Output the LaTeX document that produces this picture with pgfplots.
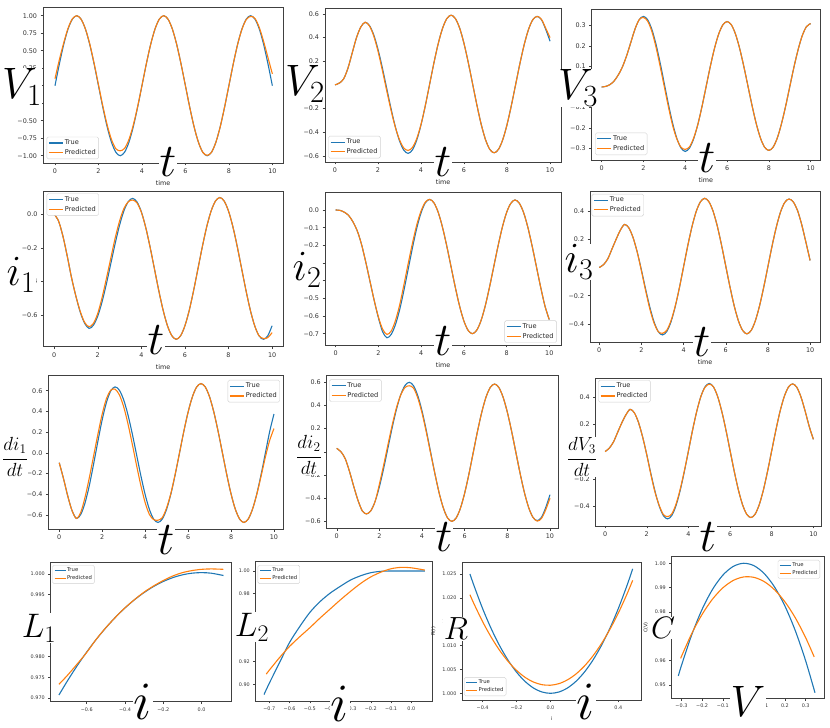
\RequirePackage{fix-cm}
\documentclass[border=0pt]{standalone}
\usepackage{fontspec}
\usepackage{pgfplots}
\usepackage{pgfplotstable}
\pgfplotsset{compat=1.18}
\newfontfamily\mplfont{DejaVu Sans}
\definecolor{mblue}{HTML}{1F77B4}
\definecolor{morange}{HTML}{FF7F0E}
\newcommand\tickf{\mplfont\fontsize{6.4}{7}\selectfont}
\newcommand\smallf{\mplfont\fontsize{4.9}{5.5}\selectfont}
\newcommand\legf{\mplfont\fontsize{6.6}{7.2}\selectfont}
\newcommand\slegf{\mplfont\fontsize{5.3}{6}\selectfont}
\newcommand\bl[2]{\fontsize{#1}{#1}\selectfont$#2$}

\pgfplotsset{
  mpl/.style={
    scale only axis, anchor=south west,
    axis line style={black!75, line width=0.55pt},
    tick pos=left, tick align=outside,
    major tick length=2.4pt,
    every tick/.style={black!75, line width=0.45pt},
    tick label style={font=\tickf, text=black!80},
    label style={font=\tickf, text=black!85},
    legend cell align=left,
    legend style={font=\legf, text=black!85, draw=black!18, fill=white,
      rounded corners=1.5pt, inner xsep=1.5pt, inner ysep=1.5pt,
      nodes={inner sep=1.4pt}, row sep=0.5pt},
    legend image code/.code={\draw[#1, line width=1.1pt] (0pt,0pt) -- (14pt,0pt);},
    every axis plot/.append style={line width=1.1pt, no markers},
  },
  tser/.style={mpl, xtick={0,2,4,6,8,10}, xticklabels={0,2,4,6,8,10}, xlabel={time}},
  sm/.style={mpl, tick label style={font=\smallf}, label style={font=\smallf},
    legend style={font=\slegf, nodes={inner sep=1pt}},
    legend image code/.code={\draw[#1, line width=1.0pt] (0pt,0pt) -- (11pt,0pt);}},
  tr/.style={mblue, smooth},
  pr/.style={morange, smooth},
}

% time series: t, true (a), predicted (b)
\pgfplotstableread{
t a b
0 0 0.10
0.2 0.309 0.37
0.4 0.588 0.61
0.6 0.809 0.82
0.8 0.951 0.955
1.0 1.0 1.0
1.2 0.951 0.95
1.4 0.809 0.81
1.6 0.588 0.595
1.8 0.309 0.32
2.0 0 0.015
2.2 -0.309 -0.29
2.4 -0.588 -0.56
2.6 -0.809 -0.77
2.8 -0.951 -0.90
3.0 -1.0 -0.93
3.2 -0.951 -0.895
3.4 -0.809 -0.77
3.6 -0.588 -0.565
3.8 -0.309 -0.30
4.0 0 0
4.2 0.309 0.309
4.4 0.588 0.588
4.6 0.809 0.809
4.8 0.951 0.951
5.0 1.0 1.0
5.2 0.951 0.951
5.4 0.809 0.809
5.6 0.588 0.588
5.8 0.309 0.309
6.0 0 0
6.2 -0.309 -0.309
6.4 -0.588 -0.588
6.6 -0.809 -0.809
6.8 -0.951 -0.951
7.0 -1.0 -0.995
7.2 -0.951 -0.951
7.4 -0.809 -0.809
7.6 -0.588 -0.588
7.8 -0.309 -0.309
8.0 0 0
8.2 0.309 0.309
8.4 0.588 0.588
8.6 0.809 0.805
8.8 0.951 0.945
9.0 1.0 0.99
9.2 0.951 0.96
9.4 0.809 0.83
9.6 0.588 0.63
9.8 0.309 0.40
10 0 0.17
}\tVa

\pgfplotstableread{
t a b
0 0 0
0.2 0.015 0.015
0.4 0.05 0.05
0.6 0.14 0.14
0.8 0.27 0.27
1.0 0.40 0.40
1.2 0.49 0.49
1.4 0.53 0.53
1.6 0.503 0.50
1.8 0.424 0.415
2.0 0.301 0.285
2.2 0.146 0.125
2.4 -0.025 -0.045
2.6 -0.196 -0.21
2.8 -0.351 -0.355
3.0 -0.474 -0.465
3.2 -0.553 -0.535
3.4 -0.58 -0.555
3.6 -0.551 -0.53
3.8 -0.468 -0.455
4.0 -0.339 -0.335
4.2 -0.176 -0.176
4.4 0.005 0.005
4.6 0.186 0.186
4.8 0.349 0.349
5.0 0.478 0.478
5.2 0.561 0.561
5.4 0.59 0.59
5.6 0.561 0.561
5.8 0.479 0.479
6.0 0.350 0.350
6.2 0.187 0.187
6.4 0.0075 0.0075
6.6 -0.172 -0.172
6.8 -0.335 -0.335
7.0 -0.464 -0.464
7.2 -0.547 -0.547
7.4 -0.575 -0.575
7.6 -0.547 -0.547
7.8 -0.465 -0.465
8.0 -0.337 -0.337
8.2 -0.176 -0.176
8.4 0.0025 0.0025
8.6 0.181 0.181
8.8 0.342 0.342
9.0 0.470 0.470
9.2 0.552 0.552
9.4 0.58 0.58
9.6 0.552 0.555
9.8 0.47 0.48
10 0.37 0.40
}\tVb

\pgfplotstableread{
t a b
0 0 0
0.2 0.003 0.003
0.4 0.012 0.012
0.6 0.03 0.03
0.8 0.06 0.06
1.0 0.10 0.10
1.2 0.155 0.155
1.4 0.22 0.22
1.6 0.285 0.285
1.8 0.33 0.33
2.0 0.345 0.34
2.2 0.329 0.322
2.4 0.282 0.272
2.6 0.209 0.195
2.8 0.117 0.10
3.0 0.015 0.0
3.2 -0.087 -0.10
3.4 -0.179 -0.19
3.6 -0.252 -0.255
3.8 -0.299 -0.295
4.0 -0.315 -0.305
4.2 -0.299 -0.293
4.4 -0.254 -0.25
4.6 -0.184 -0.184
4.8 -0.096 -0.096
5.0 0.0025 0.0025
5.2 0.101 0.101
5.4 0.189 0.189
5.6 0.259 0.259
5.8 0.304 0.304
6.0 0.32 0.32
6.2 0.305 0.305
6.4 0.26 0.26
6.6 0.19 0.19
6.8 0.102 0.102
7.0 0.005 0.005
7.2 -0.092 -0.092
7.4 -0.180 -0.180
7.6 -0.250 -0.250
7.8 -0.295 -0.295
8.0 -0.31 -0.31
8.2 -0.295 -0.295
8.4 -0.251 -0.251
8.6 -0.182 -0.182
8.8 -0.096 -0.096
9.0 0 0
9.2 0.096 0.096
9.4 0.182 0.182
9.6 0.251 0.251
9.8 0.295 0.295
10 0.31 0.31
}\tVc

\pgfplotstableread{
t a b
0 0 0
0.2 -0.04 -0.04
0.4 -0.13 -0.13
0.6 -0.25 -0.25
0.8 -0.38 -0.38
1.0 -0.49 -0.49
1.2 -0.585 -0.58
1.4 -0.65 -0.645
1.6 -0.68 -0.67
1.8 -0.661 -0.65
2.0 -0.606 -0.59
2.2 -0.520 -0.495
2.4 -0.412 -0.38
2.6 -0.2925 -0.26
2.8 -0.173 -0.14
3.0 -0.065 -0.04
3.2 0.021 0.035
3.4 0.076 0.075
3.6 0.095 0.085
3.8 0.074 0.068
4.0 0.015 0.012
4.2 -0.078 -0.078
4.4 -0.195 -0.195
4.6 -0.325 -0.325
4.8 -0.455 -0.455
5.0 -0.572 -0.572
5.2 -0.665 -0.665
5.4 -0.724 -0.724
5.6 -0.745 -0.745
5.8 -0.724 -0.724
6.0 -0.664 -0.664
6.2 -0.571 -0.571
6.4 -0.453 -0.453
6.6 -0.3225 -0.3225
6.8 -0.192 -0.192
7.0 -0.074 -0.074
7.2 0.019 0.019
7.4 0.079 0.079
7.6 0.10 0.10
7.8 0.079 0.079
8.0 0.019 0.019
8.2 -0.074 -0.074
8.4 -0.192 -0.192
8.6 -0.3225 -0.3225
8.8 -0.453 -0.453
9.0 -0.571 -0.571
9.2 -0.664 -0.664
9.4 -0.724 -0.724
9.6 -0.745 -0.74
9.8 -0.724 -0.735
10 -0.664 -0.705
}\tIa

\pgfplotstableread{
t a b
0 0 0
0.2 -0.002 -0.002
0.4 -0.012 -0.012
0.6 -0.03 -0.03
0.8 -0.065 -0.065
1.0 -0.115 -0.115
1.2 -0.19 -0.19
1.4 -0.29 -0.29
1.6 -0.40 -0.40
1.8 -0.51 -0.51
2.0 -0.61 -0.605
2.2 -0.69 -0.675
2.4 -0.723 -0.704
2.6 -0.704 -0.685
2.8 -0.648 -0.625
3.0 -0.562 -0.535
3.2 -0.452 -0.42
3.4 -0.3315 -0.30
3.6 -0.211 -0.185
3.8 -0.101 -0.082
4.0 -0.015 -0.005
4.2 0.041 0.045
4.4 0.06 0.06
4.6 0.041 0.041
4.8 -0.013 -0.013
5.0 -0.097 -0.097
5.2 -0.203 -0.203
5.4 -0.32 -0.32
5.6 -0.437 -0.437
5.8 -0.543 -0.543
6.0 -0.627 -0.627
6.2 -0.681 -0.681
6.4 -0.70 -0.70
6.6 -0.681 -0.681
6.8 -0.628 -0.628
7.0 -0.544 -0.544
7.2 -0.438 -0.438
7.4 -0.3215 -0.3215
7.6 -0.205 -0.205
7.8 -0.099 -0.099
8.0 -0.015 -0.015
8.2 0.038 0.038
8.4 0.057 0.057
8.6 0.038 0.038
8.8 -0.015 -0.015
9.0 -0.099 -0.099
9.2 -0.205 -0.205
9.4 -0.3215 -0.3215
9.6 -0.438 -0.438
9.8 -0.544 -0.544
10 -0.62 -0.62
}\tIb

\pgfplotstableread{
t a b
0 0 0
0.2 0.02 0.02
0.4 0.06 0.06
0.6 0.13 0.13
0.8 0.20 0.20
1.0 0.265 0.265
1.2 0.305 0.305
1.4 0.281 0.281
1.6 0.213 0.213
1.8 0.109 0.109
2.0 -0.018 -0.025
2.2 -0.155 -0.165
2.4 -0.282 -0.295
2.6 -0.386 -0.395
2.8 -0.455 -0.455
3.0 -0.478 -0.466
3.2 -0.454 -0.445
3.4 -0.386 -0.378
3.6 -0.279 -0.275
3.8 -0.144 -0.144
4.0 0.006 0.006
4.2 0.156 0.156
4.4 0.291 0.291
4.6 0.398 0.398
4.8 0.466 0.466
5.0 0.49 0.49
5.2 0.466 0.466
5.4 0.398 0.398
5.6 0.292 0.292
5.8 0.158 0.158
6.0 0.01 0.01
6.2 -0.138 -0.138
6.4 -0.272 -0.272
6.6 -0.378 -0.378
6.8 -0.446 -0.446
7.0 -0.47 -0.47
7.2 -0.447 -0.447
7.4 -0.379 -0.379
7.6 -0.273 -0.273
7.8 -0.14 -0.14
8.0 0.0075 0.0075
8.2 0.155 0.155
8.4 0.288 0.288
8.6 0.394 0.394
8.8 0.462 0.462
9.0 0.485 0.485
9.2 0.465 0.465
9.4 0.405 0.405
9.6 0.305 0.305
9.8 0.18 0.18
10 0.05 0.05
}\tIc

\pgfplotstableread{
t a b
0 -0.096 -0.096
0.2 -0.25 -0.25
0.4 -0.42 -0.42
0.6 -0.56 -0.56
0.8 -0.633 -0.633
1.0 -0.595 -0.575
1.2 -0.484 -0.43
1.4 -0.316 -0.24
1.6 -0.108 -0.03
1.8 0.112 0.18
2.0 0.320 0.375
2.2 0.488 0.525
2.4 0.599 0.605
2.6 0.637 0.615
2.8 0.605 0.56
3.0 0.512 0.445
3.2 0.367 0.28
3.4 0.185 0.085
3.6 -0.0175 -0.12
3.8 -0.220 -0.315
4.0 -0.402 -0.48
4.2 -0.547 -0.595
4.4 -0.640 -0.645
4.6 -0.672 -0.65
4.8 -0.639 -0.625
5.0 -0.544 -0.53
5.2 -0.396 -0.39
5.4 -0.209 -0.205
5.6 -0.0015 -0.0015
5.8 0.206 0.206
6.0 0.393 0.393
6.2 0.541 0.541
6.4 0.636 0.636
6.6 0.669 0.669
6.8 0.636 0.636
7.0 0.541 0.541
7.2 0.393 0.393
7.4 0.206 0.206
7.6 -0.0015 -0.0015
7.8 -0.209 -0.209
8.0 -0.396 -0.396
8.2 -0.544 -0.544
8.4 -0.639 -0.639
8.6 -0.672 -0.672
8.8 -0.639 -0.639
9.0 -0.544 -0.544
9.2 -0.396 -0.40
9.4 -0.209 -0.225
9.6 -0.0015 -0.04
9.8 0.206 0.12
10 0.375 0.235
}\tDa

\pgfplotstableread{
t a b
0 0.03 0.03
0.2 0.0 0.0
0.4 -0.06 -0.06
0.6 -0.17 -0.17
0.8 -0.30 -0.30
1.0 -0.42 -0.42
1.2 -0.51 -0.51
1.4 -0.536 -0.536
1.6 -0.508 -0.508
1.8 -0.428 -0.428
2.0 -0.302 -0.28
2.2 -0.144 -0.115
2.4 0.032 0.06
2.6 0.208 0.23
2.8 0.366 0.38
3.0 0.492 0.49
3.2 0.572 0.555
3.4 0.60 0.57
3.6 0.571 0.55
3.8 0.485 0.465
4.0 0.353 0.335
4.2 0.185 0.17
4.4 0 -0.01
4.6 -0.185 -0.185
4.8 -0.353 -0.353
5.0 -0.485 -0.485
5.2 -0.571 -0.571
5.4 -0.60 -0.60
5.6 -0.571 -0.571
5.8 -0.487 -0.487
6.0 -0.356 -0.356
6.2 -0.191 -0.191
6.4 -0.0075 -0.0075
6.6 0.176 0.176
6.8 0.341 0.341
7.0 0.472 0.472
7.2 0.556 0.556
7.4 0.585 0.585
7.6 0.556 0.556
7.8 0.472 0.472
8.0 0.342 0.342
8.2 0.178 0.178
8.4 -0.0045 -0.0045
8.6 -0.187 -0.187
8.8 -0.351 -0.351
9.0 -0.481 -0.481
9.2 -0.565 -0.565
9.4 -0.594 -0.598
9.6 -0.565 -0.575
9.8 -0.481 -0.50
10 -0.37 -0.40
}\tDb

\pgfplotstableread{
t a b
0 0 0
0.2 0.025 0.025
0.4 0.07 0.07
0.6 0.14 0.14
0.8 0.21 0.21
1.0 0.27 0.27
1.2 0.31 0.31
1.4 0.286 0.286
1.6 0.216 0.216
1.8 0.109 0.109
2.0 -0.022 -0.022
2.2 -0.162 -0.17
2.4 -0.293 -0.30
2.6 -0.400 -0.395
2.8 -0.470 -0.462
3.0 -0.494 -0.477
3.2 -0.470 -0.458
3.4 -0.399 -0.388
3.6 -0.289 -0.28
3.8 -0.151 -0.145
4.0 0.003 0.003
4.2 0.157 0.157
4.4 0.295 0.295
4.6 0.405 0.405
4.8 0.476 0.472
5.0 0.50 0.495
5.2 0.476 0.476
5.4 0.406 0.406
5.6 0.297 0.297
5.8 0.160 0.160
6.0 0.008 0.008
6.2 -0.144 -0.144
6.4 -0.281 -0.281
6.6 -0.390 -0.390
6.8 -0.460 -0.460
7.0 -0.484 -0.484
7.2 -0.460 -0.460
7.4 -0.390 -0.390
7.6 -0.282 -0.282
7.8 -0.145 -0.145
8.0 0.0065 0.0065
8.2 0.158 0.158
8.4 0.295 0.295
8.6 0.403 0.403
8.8 0.473 0.473
9.0 0.497 0.497
9.2 0.473 0.473
9.4 0.403 0.403
9.6 0.30 0.30
9.8 0.185 0.185
10 0.09 0.09
}\tDc

\begin{document}
\begin{tikzpicture}
\useasboundingbox (0,0) rectangle (830pt,728pt);

% ---------- row 1 ----------
\begin{axis}[tser, at={(43pt,565pt)}, width=240pt, height=155.7pt,
  xmin=-0.552, xmax=10.49, ymin=-1.104, ymax=1.12,
  ytick={-1,-0.75,-0.5,-0.25,0,0.25,0.5,0.75,1},
  yticklabels={−1.00,−0.75,−0.50,−0.25,0.00,0.25,0.50,0.75,1.00},
  legend style={at={(0.015,0.025)}, anchor=south west}]
\addplot[tr] table[x=t,y=a] {\tVa};
\addplot[pr] table[x=t,y=b] {\tVa};
\legend{True,Predicted}
\end{axis}

\begin{axis}[tser, at={(325pt,566pt)}, width=236pt, height=154pt,
  xmin=-0.465, xmax=10.51, ymin=-0.653, ymax=0.651,
  ytick={-0.6,-0.4,-0.2,0,0.2,0.4,0.6},
  yticklabels={−0.6,−0.4,−0.2,0.0,0.2,0.4,0.6},
  legend style={at={(0.014,0.024)}, anchor=south west}]
\addplot[tr] table[x=t,y=a] {\tVb};
\addplot[pr] table[x=t,y=b] {\tVb};
\legend{True,Predicted}
\end{axis}

\begin{axis}[tser, at={(591.7pt,568pt)}, width=228.3pt, height=150.7pt,
  xmin=-0.478, xmax=10.45, ymin=-0.357, ymax=0.38,
  ytick={-0.3,-0.2,-0.1,0,0.1,0.2,0.3},
  yticklabels={−0.3,−0.2,−0.1,0.0,0.1,0.2,0.3},
  legend style={at={(0.0145,0.033)}, anchor=south west}]
\addplot[tr] table[x=t,y=a] {\tVc};
\addplot[pr] table[x=t,y=b] {\tVc};
\legend{True,Predicted}
\end{axis}

% ---------- row 2 ----------
\begin{axis}[tser, at={(43.3pt,381.3pt)}, width=239.7pt, height=155.7pt,
  xmin=-0.5, xmax=10.5, ymin=-0.789, ymax=0.139,
  ytick={-0.6,-0.4,-0.2,0}, yticklabels={−0.6,−0.4,−0.2,0.0},
  legend style={at={(0.014,0.985)}, anchor=north west}]
\addplot[tr] table[x=t,y=a] {\tIa};
\addplot[pr] table[x=t,y=b] {\tIa};
\legend{True,Predicted}
\end{axis}

\begin{axis}[tser, at={(325pt,383pt)}, width=236pt, height=152.3pt,
  xmin=-0.5, xmax=10.55, ymin=-0.764, ymax=0.098,
  ytick={-0.7,-0.6,-0.5,-0.4,-0.3,-0.2,-0.1,0},
  yticklabels={−0.7,−0.6,−0.5,−0.4,−0.3,−0.2,−0.1,0.0},
  legend style={at={(0.982,0.015)}, anchor=south east}]
\addplot[tr] table[x=t,y=a] {\tIb};
\addplot[pr] table[x=t,y=b] {\tIb};
\legend{True,Predicted}
\end{axis}

\begin{axis}[tser, at={(590pt,385.7pt)}, width=230pt, height=150.6pt,
  xmin=-0.44, xmax=10.47, ymin=-0.53, ymax=0.537,
  ytick={-0.4,-0.2,0,0.2,0.4}, yticklabels={−0.4,−0.2,0.0,0.2,0.4},
  legend style={at={(0.007,0.985)}, anchor=north west}]
\addplot[tr] table[x=t,y=a] {\tIc};
\addplot[pr] table[x=t,y=b] {\tIc};
\legend{True,Predicted}
\end{axis}

% ---------- row 3 ----------
\begin{axis}[tser, at={(48.3pt,198.7pt)}, width=234.7pt, height=153.6pt,
  xmin=-0.51, xmax=10.42, ymin=-0.738, ymax=0.745,
  ytick={-0.6,-0.4,-0.2,0,0.2,0.4,0.6},
  yticklabels={−0.6,−0.4,−0.2,0.0,0.2,0.4,0.6},
  legend style={at={(0.987,0.972)}, anchor=north east}]
\addplot[tr] table[x=t,y=a] {\tDa};
\addplot[pr] table[x=t,y=b] {\tDa};
\legend{True,Predicted}
\end{axis}

\begin{axis}[tser, at={(326.7pt,199.7pt)}, width=231.6pt, height=152.6pt,
  xmin=-0.47, xmax=10.39, ymin=-0.66, ymax=0.657,
  ytick={-0.6,-0.4,-0.2,0,0.2,0.4,0.6},
  yticklabels={−0.6,−0.4,−0.2,0.0,0.2,0.4,0.6},
  legend style={at={(0.011,0.976)}, anchor=north west}]
\addplot[tr] table[x=t,y=a] {\tDb};
\addplot[pr] table[x=t,y=b] {\tDb};
\legend{True,Predicted}
\end{axis}

\begin{axis}[tser, at={(595.7pt,202pt)}, width=226pt, height=147.7pt,
  xmin=-0.45, xmax=10.40, ymin=-0.546, ymax=0.538,
  ytick={-0.4,-0.2,0,0.2,0.4}, yticklabels={−0.4,−0.2,0.0,0.2,0.4},
  legend style={at={(0.0115,0.988)}, anchor=north west}]
\addplot[tr] table[x=t,y=a] {\tDc};
\addplot[pr] table[x=t,y=b] {\tDc};
\legend{True,Predicted}
\end{axis}

% ---------- row 4 ----------
\begin{axis}[sm, at={(50.7pt,26.3pt)}, width=181pt, height=139.4pt,
  xmin=-0.788, xmax=0.157, ymin=0.9691, ymax=1.0028,
  xtick={-0.6,-0.4,-0.2,0}, xticklabels={−0.6,−0.4,−0.2,0.0},
  ytick={0.970,0.975,0.980,0.985,0.990,0.995,1.000},
  yticklabels={0.970,0.975,0.980,0.985,0.990,0.995,1.000},
  legend style={at={(0.009,0.98)}, anchor=north west}]
\addplot[tr] table {
-0.745 0.97072
-0.7 0.97418
-0.65 0.97778
-0.6 0.98111
-0.55 0.98418
-0.5 0.98697
-0.45 0.98951
-0.4 0.99177
-0.35 0.99377
-0.3 0.9955
-0.25 0.99697
-0.2 0.99817
-0.15 0.9991
-0.1 0.99977
-0.05 1.00017
0 1.0003
0.05 1.00017
0.114 0.99961
};
\addplot[pr] table {
-0.745 0.9733
-0.7 0.9755
-0.65 0.9782
-0.6 0.9810
-0.55 0.9842
-0.5 0.9870
-0.45 0.9895
-0.4 0.9918
-0.35 0.9938
-0.3 0.9956
-0.25 0.9971
-0.2 0.9984
-0.15 0.9995
-0.1 1.0003
-0.05 1.0008
0 1.0011
0.05 1.0012
0.114 1.0011
};
\legend{True,Predicted}
\end{axis}

\begin{axis}[sm, at={(255.7pt,27pt)}, width=177pt, height=139.3pt,
  xmin=-0.767, xmax=0.105, ymin=0.8853, ymax=1.0082,
  xtick={-0.7,-0.6,-0.5,-0.4,-0.3,-0.2,-0.1,0},
  xticklabels={−0.7,−0.6,−0.5,−0.4,−0.3,−0.2,−0.1,0.0},
  ytick={0.90,0.92,0.94,0.96,0.98,1.00},
  yticklabels={0.90,0.92,0.94,0.96,0.98,1.00},
  legend style={at={(0.011,0.976)}, anchor=north west}]
\addplot[tr] table {
-0.726 0.891
-0.7 0.901
-0.65 0.919
-0.6 0.937
-0.55 0.951
-0.5 0.9635
-0.45 0.973
-0.4 0.9805
-0.35 0.9865
-0.3 0.992
-0.25 0.9958
-0.2 0.9985
-0.15 0.9997
-0.1 1.0
-0.05 1.0
0 1.0
0.066 1.0
};
\addplot[pr] table {
-0.715 0.909
-0.7 0.9125
-0.65 0.9235
-0.6 0.9335
-0.55 0.942
-0.5 0.950
-0.45 0.9585
-0.4 0.9665
-0.35 0.9745
-0.3 0.982
-0.25 0.989
-0.2 0.9948
-0.15 0.999
-0.1 1.0020
-0.05 1.0032
0 1.0028
0.066 1.0008
};
\legend{True,Predicted}
\end{axis}

\begin{axis}[sm, at={(462.3pt,28pt)}, width=178.7pt, height=137.3pt,
  xmin=-0.52, xmax=0.534, ymin=0.9986, ymax=1.0274,
  xtick={-0.4,-0.2,0,0.2,0.4}, xticklabels={−0.4,−0.2,0.0,0.2,0.4},
  ytick={1.000,1.005,1.010,1.015,1.020,1.025},
  yticklabels={1.000,1.005,1.010,1.015,1.020,1.025},
  xlabel={i}, ylabel={R(i)},
  legend style={at={(0.0095,0.029)}, anchor=south west}]
\addplot[tr] table {
-0.475 1.02504
-0.45 1.02248
-0.4 1.01776
-0.35 1.0136
-0.3 1.00999
-0.25 1.00694
-0.2 1.00444
-0.15 1.0025
-0.1 1.00111
-0.05 1.00028
0 1.0
0.05 1.00028
0.1 1.00111
0.15 1.0025
0.2 1.00444
0.25 1.00694
0.3 1.00999
0.35 1.0136
0.4 1.01776
0.45 1.02248
0.485 1.02611
};
\addplot[pr] table {
-0.475 1.02069
-0.45 1.01869
-0.4 1.01502
-0.35 1.0118
-0.3 1.00902
-0.25 1.0067
-0.2 1.00481
-0.15 1.00336
-0.1 1.00236
-0.05 1.00181
0 1.0017
0.05 1.00203
0.1 1.00282
0.15 1.00404
0.2 1.00571
0.25 1.00782
0.3 1.01038
0.35 1.01338
0.4 1.01682
0.45 1.02071
0.485 1.0237
};
\legend{True,Predicted}
\end{axis}

\begin{axis}[sm, at={(671.7pt,29.7pt)}, width=152.6pt, height=141.6pt,
  xmin=-0.347, xmax=0.39, ymin=0.9445, ymax=1.0027,
  xtick={-0.3,-0.2,-0.1,0,0.1,0.2,0.3},
  xticklabels={−0.3,−0.2,−0.1,0.0,0.1,0.2,0.3},
  ytick={0.95,0.96,0.97,0.98,0.99,1.00},
  yticklabels={0.95,0.96,0.97,0.98,0.99,1.00},
  ylabel={C(V)},
  legend style={at={(0.972,0.977)}, anchor=north east}]
\addplot[tr] table {
-0.315 0.9537
-0.3 0.95796
-0.25 0.97067
-0.2 0.9811
-0.15 0.98925
-0.1 0.99512
-0.05 0.9987
0 1.0
0.05 0.99902
0.1 0.99576
0.15 0.99021
0.2 0.98238
0.25 0.97227
0.3 0.95988
0.345 0.94678
};
\addplot[pr] table {
-0.304 0.9609
-0.25 0.97117
-0.2 0.97901
-0.15 0.98525
-0.1 0.98989
-0.05 0.99293
0 0.99437
0.05 0.99421
0.1 0.99245
0.15 0.98909
0.2 0.98413
0.25 0.97757
0.3 0.96941
0.341 0.96153
};
\legend{True,Predicted}
\end{axis}

% ---------- big overlaid labels ----------
\tikzset{bigl/.style={fill=white, inner sep=0.6pt}}
\node[bigl] at (22pt,641pt) {\bl{44}{V_1}};
\node[bigl] at (168pt,566pt) {\bl{47}{t}};
\node[bigl] at (305pt,644pt) {\bl{44}{V_2}};
\node[bigl] at (443pt,566pt) {\bl{47}{t}};
\node[bigl] at (578pt,640pt) {\bl{44}{V_3}};
\node[bigl] at (707pt,570pt) {\bl{47}{t}};

\node[bigl] at (21pt,453pt) {\bl{43}{i_1}};
\node[bigl] at (156pt,388pt) {\bl{47}{t}};
\node[bigl] at (307pt,458pt) {\bl{43}{i_2}};
\node[bigl] at (443pt,387pt) {\bl{47}{t}};
\node[bigl] at (579pt,466pt) {\bl{43}{i_3}};
\node[bigl] at (702pt,386pt) {\bl{47}{t}};

\node[bigl] at (15pt,271pt) {\bl{19}{\displaystyle\frac{di_1}{dt}}};
\node[bigl] at (166pt,188pt) {\bl{47}{t}};
\node[bigl] at (309pt,273pt) {\bl{19}{\displaystyle\frac{di_2}{dt}}};
\node[bigl] at (444pt,191pt) {\bl{47}{t}};
\node[bigl] at (582pt,271pt) {\bl{19}{\displaystyle\frac{dV_3}{dt}}};
\node[bigl] at (708pt,191pt) {\bl{47}{t}};

\node[bigl] at (39pt,100pt) {\bl{34}{L_1}};
\node[bigl] at (143pt,26pt) {\bl{54}{i}};
\node[bigl] at (252pt,101pt) {\bl{34}{L_2}};
\node[bigl] at (340pt,24pt) {\bl{54}{i}};
\node[bigl] at (456pt,99pt) {\bl{32}{R}};
\node[bigl] at (586pt,26pt) {\bl{54}{i}};
\node[bigl] at (663pt,100pt) {\bl{31}{C}};
\node[bigl] at (748pt,27pt) {\bl{44}{V}};
\end{tikzpicture}
\end{document}
